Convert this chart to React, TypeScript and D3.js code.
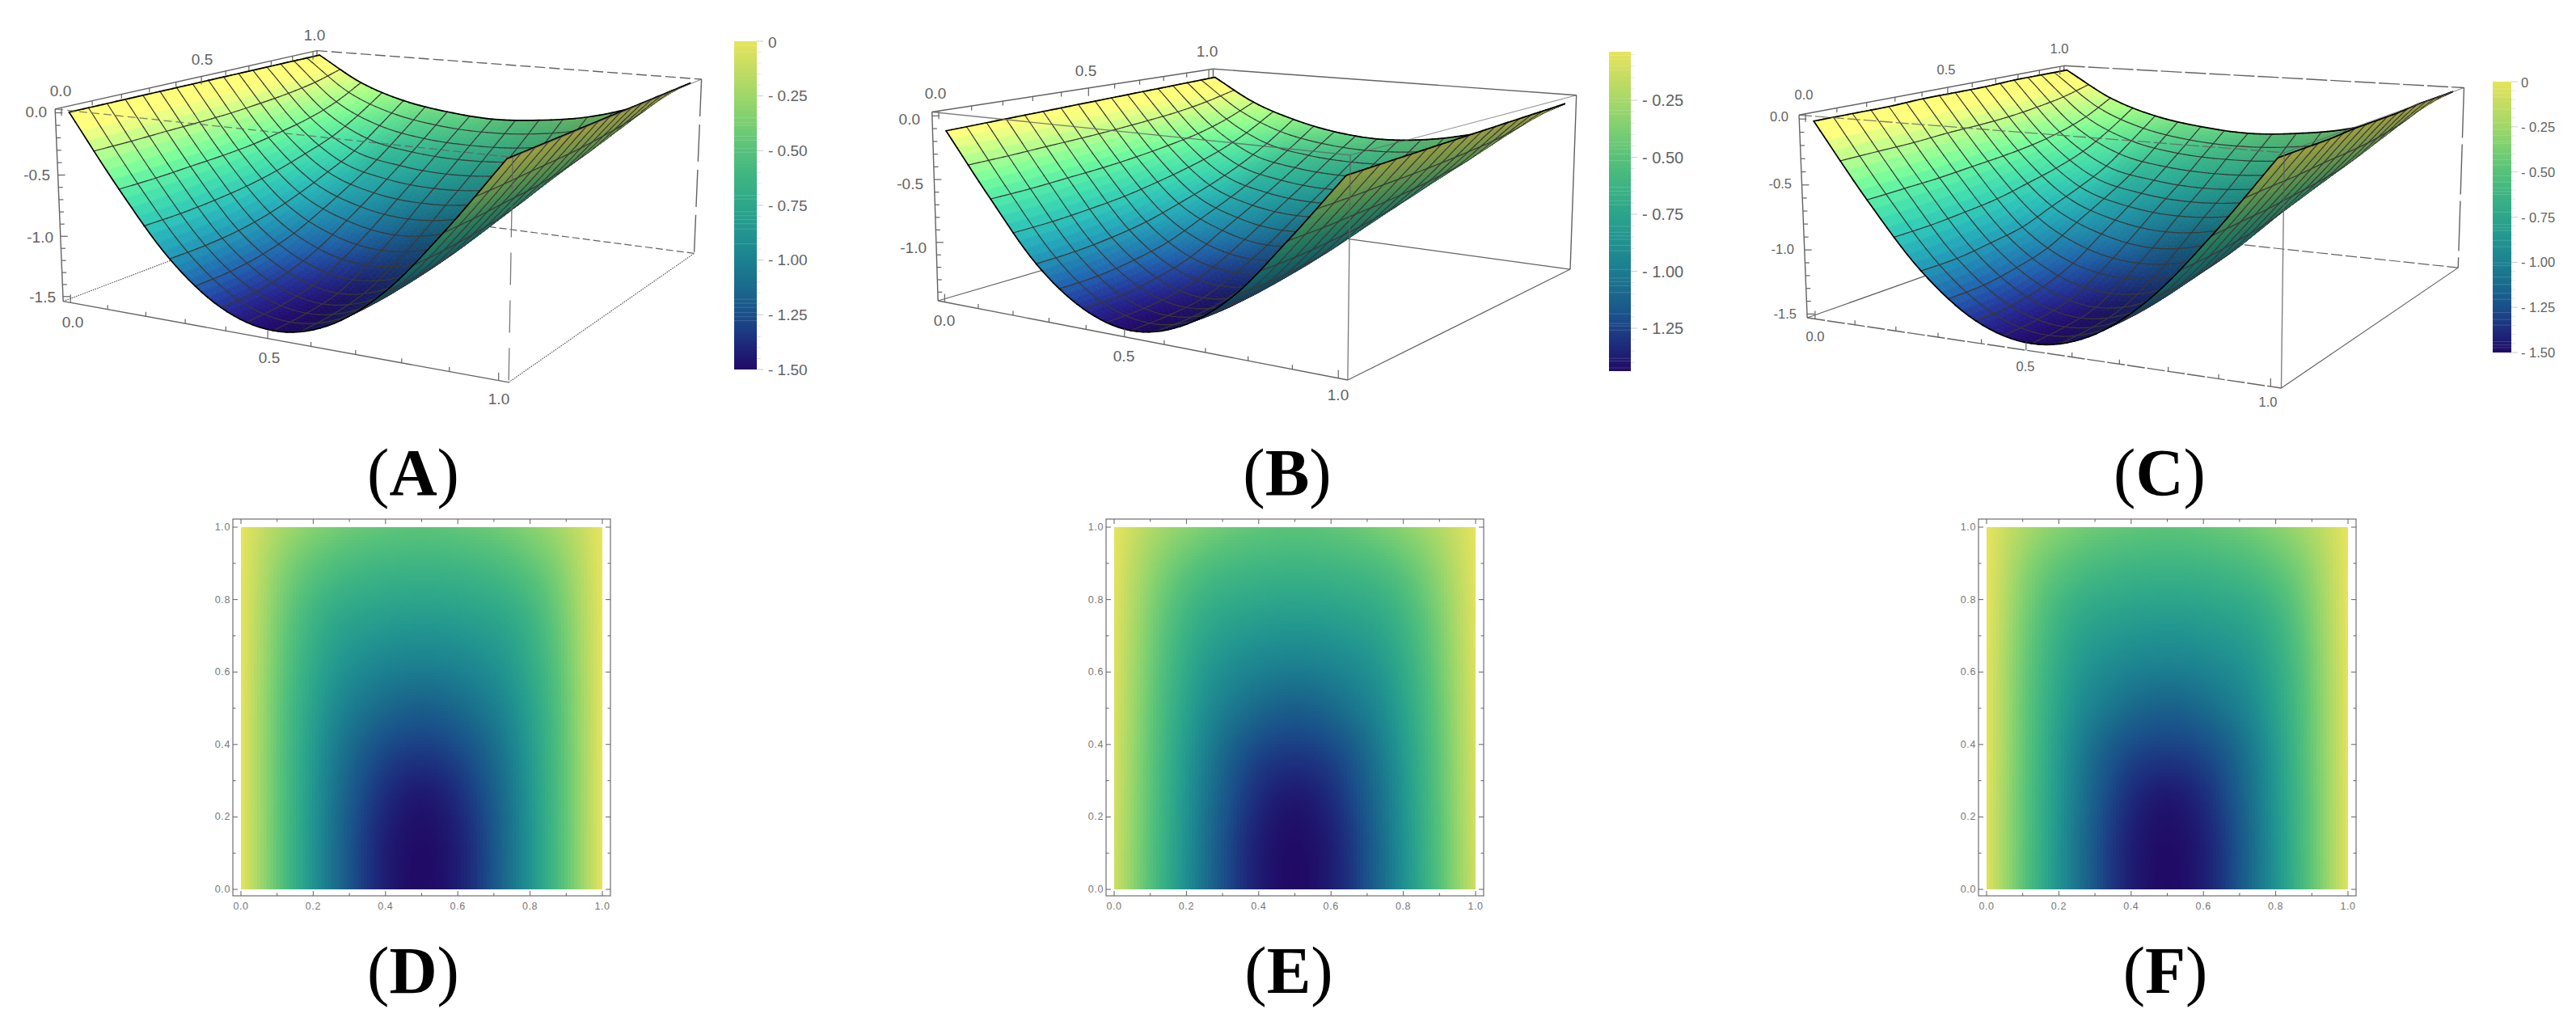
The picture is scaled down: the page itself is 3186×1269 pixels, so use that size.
import React, { useEffect, useRef } from "react";
import * as d3 from "d3";

// grid of the read-off surface values
const gridX = [0, 0.125, 0.25, 0.375, 0.5, 0.625, 0.75, 0.875, 1];
const gridY = [0, 0.125, 0.25, 0.375, 0.5, 0.625, 0.75, 0.875, 1];

const surfaceA = [
  [0, -0.57, -1.07, -1.39, -1.5, -1.39, -1.07, -0.57, 0],
  [0, -0.57, -1.07, -1.385, -1.49, -1.385, -1.07, -0.57, 0],
  [0, -0.56, -1.05, -1.34, -1.45, -1.34, -1.05, -0.56, 0],
  [0, -0.55, -1.0, -1.25, -1.33, -1.25, -1.0, -0.55, 0],
  [0, -0.53, -0.92, -1.11, -1.18, -1.11, -0.92, -0.53, 0],
  [0, -0.49, -0.82, -0.96, -1.0, -0.96, -0.82, -0.49, 0],
  [0, -0.44, -0.71, -0.8, -0.83, -0.8, -0.71, -0.44, 0],
  [0, -0.36, -0.55, -0.63, -0.65, -0.63, -0.55, -0.36, 0],
  [0, -0.24, -0.38, -0.45, -0.48, -0.45, -0.38, -0.24, 0],
];
const surfaceB = [
  [-0.12, -0.61, -1.06, -1.34, -1.44, -1.34, -1.06, -0.61, -0.12],
  [-0.11, -0.6, -1.05, -1.335, -1.43, -1.335, -1.05, -0.6, -0.11],
  [-0.1, -0.58, -1.02, -1.29, -1.39, -1.29, -1.02, -0.58, -0.1],
  [-0.09, -0.56, -0.97, -1.21, -1.28, -1.21, -0.97, -0.56, -0.09],
  [-0.08, -0.53, -0.89, -1.07, -1.14, -1.07, -0.89, -0.53, -0.08],
  [-0.07, -0.49, -0.8, -0.93, -0.97, -0.93, -0.8, -0.49, -0.07],
  [-0.06, -0.44, -0.69, -0.78, -0.81, -0.78, -0.69, -0.44, -0.06],
  [-0.05, -0.36, -0.55, -0.62, -0.64, -0.62, -0.55, -0.36, -0.05],
  [-0.04, -0.25, -0.38, -0.46, -0.49, -0.46, -0.38, -0.25, -0.04],
];
const surfaceC = [
  [-0.02, -0.58, -1.07, -1.39, -1.5, -1.39, -1.07, -0.58, -0.02],
  [-0.02, -0.57, -1.07, -1.385, -1.49, -1.385, -1.07, -0.57, -0.02],
  [-0.02, -0.56, -1.04, -1.34, -1.45, -1.34, -1.04, -0.56, -0.02],
  [-0.01, -0.54, -1.0, -1.25, -1.32, -1.25, -1.0, -0.54, -0.01],
  [-0.01, -0.52, -0.91, -1.1, -1.17, -1.1, -0.91, -0.52, -0.01],
  [-0.01, -0.49, -0.82, -0.95, -0.99, -0.95, -0.82, -0.49, -0.01],
  [0, -0.44, -0.71, -0.8, -0.83, -0.8, -0.71, -0.44, 0],
  [0, -0.36, -0.55, -0.63, -0.65, -0.63, -0.55, -0.36, 0],
  [0, -0.24, -0.38, -0.45, -0.48, -0.45, -0.38, -0.24, 0],
];

// colour ramp, top to bottom
const rampColors = ["#e6e45c", "#c4dc62", "#9fd76a", "#79ce72", "#56c17a", "#3eb483", "#2da68a",
  "#229590", "#1c8190", "#1a6a8c", "#1a4f8a", "#1d2c7c", "#200a66"];

const axisTicks = ["0.0", "0.5", "1.0"];
const heatTicks = ["0.0", "0.2", "0.4", "0.6", "0.8", "1.0"];
const zTickValues = [0, -0.5, -1.0, -1.5];
const barTicksA = [-0.25, -0.5, -0.75, -1.0, -1.25, -1.5];
const barTicksB = [-0.25, -0.5, -0.75, -1.0, -1.25];

// pale banding seen inside the colour bars, in bar units
const stripesA = [-0.02, -0.05, -0.35, -0.372, -0.384, -0.434, -0.452, -0.489, -0.507, -0.705, -0.721, -0.779, -0.797,
  -0.815, -0.834, -0.858, -0.926, -1.179, -1.197, -1.216, -1.24, -1.259, -1.277];
const stripesB = [-0.053, -0.07, -0.1, -0.118, -0.242, -0.257, -0.295, -0.31, -0.434, -0.448, -0.463, -0.486, -0.514,
  -0.632, -0.649, -0.665, -0.691, -0.708, -0.803, -0.829, -0.845, -0.86, -0.886, -0.91, -0.992, -1.03, -1.045, -1.063,
  -1.093, -1.187, -1.229, -1.24, -1.258, -1.382, -1.394, -1.424];
const stripesC = [-0.04, -0.063, -0.085, -0.152, -0.227, -0.264, -0.297, -0.331, -0.342, -0.399, -0.431, -0.461, -0.521,
  -0.555, -0.59, -0.608, -0.625, -0.722, -0.791, -0.809, -0.824, -0.879, -0.914, -1.003, -1.018, -1.082, -1.123, -1.172,
  -1.205, -1.279, -1.317, -1.348, -1.44, -1.458, -1.473];

type Pt = [number, number];
type Fit = [number, number, number, number, number];

interface Panel3D {
  name: string;
  table: number[][];
  zTop: number;
  zBot: number;
  domain: [number, number];
  fit: Fit[];
  font: number;
  bottomLabels: Pt[];
  topLabels: Pt[];
  zLabels: Pt[];
  zTicks: number[];
  styles: { backTop: string; rightV: string; topFront: string; botBack: string; botLeft: string; botRight: string; frontV: string; botFront: string };
  bar: { x0: number; x1: number; y0: number; y1: number; ticks: number[]; stripes: number[]; zero: boolean; zeroY: number; labelX: number; font: number };
  title: string;
  titleX: number;
}

const panelsTop: Panel3D[] = [
  {
    name: "A", table: surfaceA, zTop: 0.03, zBot: -1.54, domain: [-1.5, 0],
    fit: [
      [-0.02, -0.02, 0.03, 68, 135], [-0.02, 1.02, 0.03, 392, 63], [1.02, 1.02, 0.03, 867, 98], [1.02, -0.02, 0.03, 633, 195],
      [-0.02, -0.02, -1.54, 78, 373], [1.02, -0.02, -1.54, 630, 473], [1.02, 1.02, -1.54, 858, 313],
      [0, 0, 0, 86, 138], [0, 1, 0, 395, 68], [1, 1, 0, 855, 103], [1, 0, 0, 627, 196],
    ],
    font: 19,
    bottomLabels: [[90, 398], [333, 442], [617, 493]],
    topLabels: [[75, 112], [250, 73], [389, 43]],
    zLabels: [[58, 138], [62, 216], [66, 293], [69, 367]],
    zTicks: zTickValues,
    styles: { backTop: "13 5", rightV: "46 10", topFront: "10 5", botBack: "9 4", botLeft: "1.6 1.2", botRight: "1.6 1.2", frontV: "40 19", botFront: "" },
    bar: { x0: 908, x1: 936, y0: 51, y1: 457, ticks: barTicksA, stripes: stripesA, zero: true, zeroY: 51, labelX: 950, font: 19 },
    title: "A", titleX: 511,
  },
  {
    name: "B", table: surfaceB, zTop: 0.03, zBot: -1.47, domain: [-1.438, -0.037],
    fit: [
      [-0.02, -0.02, 0.03, 1152, 138], [-0.02, 1.02, 0.03, 1500, 85], [1.02, 1.02, 0.03, 1950, 117], [1.02, -0.02, 0.03, 1670, 192],
      [-0.02, -0.02, -1.47, 1160, 372], [1.02, -0.02, -1.47, 1667, 470], [1.02, 1.02, -1.47, 1942, 333],
      [0, 0, -0.12, 1171, 162], [0, 1, -0.04, 1503, 96], [1, 1, -0.04, 1935, 129], [1, 0, -0.12, 1665, 217],
    ],
    font: 19,
    bottomLabels: [[1168, 396], [1390, 440], [1655, 488]],
    topLabels: [[1157, 115], [1343, 87], [1493, 63]],
    zLabels: [[1138, 147], [1142, 227], [1146, 306]],
    zTicks: [0, -0.5, -1.0],
    styles: { backTop: "", rightV: "", topFront: "", botBack: "", botLeft: "", botRight: "", frontV: "", botFront: "" },
    bar: { x0: 1990, x1: 2017, y0: 64, y1: 459, ticks: barTicksB, stripes: stripesB, zero: false, zeroY: 53.5, labelX: 2031, font: 20 },
    title: "B", titleX: 1592,
  },
  {
    name: "C", table: surfaceC, zTop: 0.03, zBot: -1.53, domain: [-1.5, 0],
    fit: [
      [-0.02, -0.02, 0.03, 2224, 140], [-0.02, 1.02, 0.03, 2553, 80], [1.02, 1.02, 0.03, 3049, 107], [1.02, -0.02, 0.03, 2824, 187],
      [-0.02, -0.02, -1.53, 2235, 393], [1.02, -0.02, -1.53, 2822, 480], [1.02, 1.02, -1.53, 3040, 331],
      [0, 0, -0.02, 2244.5, 152], [0, 1, 0, 2556, 88], [1, 1, 0, 3032, 115], [1, 0, -0.02, 2818, 197],
    ],
    font: 16.5,
    bottomLabels: [[2245, 416], [2505, 453], [2805, 497]],
    topLabels: [[2231, 117], [2407, 86], [2547, 60]],
    zLabels: [[2212, 144], [2216, 227], [2219, 308], [2222, 388]],
    zTicks: zTickValues,
    styles: { backTop: "26 4", rightV: "62 8", topFront: "16 4", botBack: "14 4", botLeft: "", botRight: "", frontV: "", botFront: "22 3" },
    bar: { x0: 3083, x1: 3106, y0: 101, y1: 436, ticks: barTicksA, stripes: stripesC, zero: true, zeroY: 101, labelX: 3118, font: 16.5 },
    title: "C", titleX: 2671,
  },
];

const panelsBottom = [
  { title: "D", table: surfaceA, domain: [-1.5, 0] as [number, number], shift: 0, titleX: 511 },
  { title: "E", table: surfaceB, domain: [-1.438, -0.037] as [number, number], shift: 1080, titleX: 1594 },
  { title: "F", table: surfaceC, domain: [-1.5, 0] as [number, number], shift: 2159, titleX: 2678 },
];

const GRAY = "#626262";
const SANS = "'Liberation Sans', Arial, sans-serif";

// Catmull-Rom through the table, so the surface stays smooth between read-off points
function cubic(p0: number, p1: number, p2: number, p3: number, t: number) {
  return 0.5 * (2 * p1 + (p2 - p0) * t + (2 * p0 - 5 * p1 + 4 * p2 - p3) * t * t + (3 * p1 - p0 - 3 * p2 + p3) * t * t * t);
}
function pick(a: number[], i: number) {
  const n = a.length;
  if (i < 0) return 2 * a[0] - a[1];
  if (i >= n) return 2 * a[n - 1] - a[n - 2];
  return a[i];
}
function sample1(a: number[], u: number) {
  const n = a.length - 1;
  const i = Math.min(n - 1, Math.floor(u * n));
  return cubic(pick(a, i - 1), pick(a, i), pick(a, i + 1), pick(a, i + 2), u * n - i);
}
function sampler(table: number[][]) {
  const xs = d3.scaleLinear().domain(d3.extent(gridX) as [number, number]).range([0, 1]);
  const ys = d3.scaleLinear().domain(d3.extent(gridY) as [number, number]).range([0, 1]);
  return (x: number, y: number) => sample1(table.map((row) => sample1(row, xs(x))), ys(y));
}

// least squares camera from the box and surface corners
function fitCamera(points: Fit[]) {
  const n = 11;
  const A = d3.range(n).map(() => new Array(n + 1).fill(0));
  const add = (row: number[], rhs: number) => {
    for (let i = 0; i < n; i++) {
      for (let j = 0; j < n; j++) A[i][j] += row[i] * row[j];
      A[i][n] += row[i] * rhs;
    }
  };
  points.forEach(([X, Y, Z, u0, v0]) => {
    const u = u0 / 1000;
    const v = v0 / 1000;
    add([X, Y, Z, 1, 0, 0, 0, 0, -u * X, -u * Y, -u * Z], u);
    add([0, 0, 0, 0, X, Y, Z, 1, -v * X, -v * Y, -v * Z], v);
  });
  for (let c = 0; c < n; c++) {
    let best = c;
    for (let r = c + 1; r < n; r++) if (Math.abs(A[r][c]) > Math.abs(A[best][c])) best = r;
    [A[c], A[best]] = [A[best], A[c]];
    for (let r = 0; r < n; r++) {
      if (r === c) continue;
      const f = A[r][c] / A[c][c];
      for (let k = c; k <= n; k++) A[r][k] -= f * A[c][k];
    }
  }
  const p = A.map((row, i) => row[n] / row[i]);
  return (X: number, Y: number, Z: number) => {
    const w = p[8] * X + p[9] * Y + p[10] * Z + 1;
    return {
      x: (1000 * (p[0] * X + p[1] * Y + p[2] * Z + p[3])) / w,
      y: (1000 * (p[4] * X + p[5] * Y + p[6] * Z + p[7])) / w,
      w,
    };
  };
}

function colorScale(domain: [number, number]) {
  return d3.scaleLinear<string>()
    .domain(rampColors.map((_, i) => domain[1] + ((domain[0] - domain[1]) * i) / (rampColors.length - 1)))
    .range(rampColors)
    .interpolate(d3.interpolateRgb)
    .clamp(true);
}

type G = d3.Selection<SVGGElement, unknown, null, undefined>;

function seg(g: G, a: Pt, b: Pt, dashArr: string, width = 1.4, opacity = 1) {
  g.append("line")
    .attr("x1", a[0]).attr("y1", a[1]).attr("x2", b[0]).attr("y2", b[1])
    .attr("stroke", GRAY).attr("stroke-width", width).attr("opacity", opacity)
    .attr("stroke-dasharray", dashArr || null);
}

function drawPanel3D(root: G, pn: Panel3D) {
  const g = root.append("g").attr("class", "panel-" + pn.name);
  const cam = fitCamera(pn.fit);
  const at = sampler(pn.table);
  const color = colorScale(pn.domain);
  const pad = 0.02;
  const lo = -pad;
  const hi = 1 + pad;
  const corner = (x: number, y: number, z: number): Pt => {
    const c = cam(x, y, z);
    return [c.x, c.y];
  };
  const { zTop, zBot, styles } = pn;

  // hidden box edges, behind the surface
  const back = g.append("g");
  seg(back, corner(lo, hi, zTop), corner(hi, hi, zTop), styles.backTop);
  seg(back, corner(hi, hi, zTop), corner(hi, hi, zBot), styles.rightV);
  seg(back, corner(lo, hi, zTop), corner(lo, hi, zBot), "");
  seg(back, corner(hi, hi, zBot), corner(lo, hi, zBot), styles.botBack, 1.2);
  seg(back, corner(lo, lo, zBot), corner(lo, hi, zBot), styles.botLeft, 1.2);
  seg(back, corner(hi, lo, zBot), corner(hi, hi, zBot), styles.botRight, 1.2);

  // the surface: small quads and mesh pieces, painted far to near
  const N = 64;
  const step = 4;
  const u = d3.scaleLinear().domain([0, N]).range([0, 1]);
  const line = d3.line<{ x: number; y: number }>().x((d) => d.x).y((d) => d.y);
  const zAt = d3.range(N + 1).map((j) => d3.range(N + 1).map((i) => at(u(i), u(j))));
  const pts = zAt.map((row, j) => row.map((z, i) => cam(u(i), u(j), z)));

  const refA = cam(0, 0, 0), refB = cam(1, 0, 0), refC = cam(1, 1, 0), refD = cam(0, 1, 0);
  const area = (a: any, b: any, c: any, d: any) =>
    (a.x * b.y - b.x * a.y) + (b.x * c.y - c.x * b.y) + (c.x * d.y - d.x * c.y) + (d.x * a.y - a.x * d.y);
  const topSign = Math.sign(area(refA, refB, refC, refD));
  const dwCell = (Math.abs(refB.w - refA.w) + Math.abs(refD.w - refA.w)) / N;

  interface Item { w: number; d: string; fill: string; stroke: string; width: number; }
  const items: Item[] = [];
  const zScale = 0.4 / (zTop - zBot);

  for (let j = 0; j < N; j++) {
    for (let i = 0; i < N; i++) {
      const a = pts[j][i], b = pts[j][i + 1], c = pts[j + 1][i + 1], d = pts[j + 1][i];
      const zm = (zAt[j][i] + zAt[j][i + 1] + zAt[j + 1][i + 1] + zAt[j + 1][i]) / 4;
      const zx = (((zAt[j][i + 1] + zAt[j + 1][i + 1]) - (zAt[j][i] + zAt[j + 1][i])) / 2) * N * zScale;
      const zy = (((zAt[j + 1][i] + zAt[j + 1][i + 1]) - (zAt[j][i] + zAt[j][i + 1])) / 2) * N * zScale;
      const nx = -zx / Math.sqrt(zx * zx + zy * zy + 1);
      const top = Math.sign(area(a, b, c, d)) === topSign;
      const f = top ? 1 + 0.3 * Math.tanh(3 * nx) : 0.7;
      const base = d3.rgb(color(zm));
      const fill = d3.rgb(base.r * f, base.g * f, base.b * f).formatHex();
      items.push({
        w: (a.w + b.w + c.w + d.w) / 4,
        d: line([a, b, c, d])! + "Z",
        fill, stroke: fill, width: 0.8,
      });
    }
  }
  const meshPiece = (a: any, b: any, edge: boolean) => {
    items.push({
      w: (a.w + b.w) / 2 - dwCell * (edge ? 1.3 : 1),
      d: line([a, b])!,
      fill: "none",
      stroke: edge ? "#000" : "#3b3936",
      width: edge ? 1.7 : 1.2,
    });
  };
  for (let k = 0; k <= N; k += step) {
    const edge = k === 0 || k === N;
    for (let m = 0; m < N; m++) {
      meshPiece(pts[k][m], pts[k][m + 1], edge);
      meshPiece(pts[m][k], pts[m + 1][k], edge);
    }
  }
  items.sort((p, q) => q.w - p.w);
  g.append("g").selectAll("path").data(items).join("path")
    .attr("d", (d) => d.d)
    .attr("fill", (d) => d.fill)
    .attr("stroke", (d) => d.stroke)
    .attr("stroke-width", (d) => d.width)
    .attr("stroke-linecap", "round");

  // box edges in front of the surface, with the ticks
  const front = g.append("g");
  seg(front, corner(lo, lo, zTop), corner(hi, lo, zTop), styles.topFront, 1.3, 0.8);
  seg(front, corner(hi, hi, zTop), corner(hi, lo, zTop), "", 1.1, 0.7);
  seg(front, corner(hi, lo, zTop), corner(hi, lo, zBot), styles.frontV, 1.3, 0.85);
  seg(front, corner(lo, lo, zTop), corner(lo, hi, zTop), "");
  seg(front, corner(lo, lo, zTop), corner(lo, lo, zBot), "");
  seg(front, corner(lo, lo, zBot), corner(hi, lo, zBot), styles.botFront);

  d3.range(0, 11).forEach((k) => {
    const t = k / 10;
    const len = k % 5 === 0 ? 10 : 5.5;
    const p = corner(t, lo, zBot);
    seg(front, p, [p[0], p[1] - len], "", 1.2);
    const q = corner(lo, t, zTop);
    seg(front, q, [q[0], q[1] + len], "", 1.2);
  });
  d3.range(0, 16).forEach((k) => {
    const z = -k / 10;
    if (z < zBot) return;
    const p = corner(lo, lo, z);
    seg(front, p, [p[0] + (k % 5 === 0 ? 9 : 5.5), p[1]], "", 1.2);
  });

  const label = (txt: string, p: Pt, anchor: string) => {
    g.append("text").attr("x", p[0]).attr("y", p[1]).text(txt)
      .attr("font-family", SANS).attr("font-size", pn.font).attr("fill", GRAY)
      .attr("text-anchor", anchor).attr("dominant-baseline", "central");
  };
  axisTicks.forEach((t, i) => {
    label(t, pn.bottomLabels[i], "middle");
    label(t, pn.topLabels[i], "middle");
  });
  pn.zTicks.forEach((z, i) => label(d3.format(".1f")(z).replace("−", "-"), pn.zLabels[i], "end"));

  // colour bar
  const b = pn.bar;
  const barY = d3.scaleLinear().domain([pn.domain[1], pn.domain[0]]).range([b.y0, b.y1]);
  const barG = g.append("g");
  barG.append("g").selectAll("rect").data(d3.range(b.y0, b.y1, 2)).join("rect")
    .attr("x", b.x0).attr("width", b.x1 - b.x0).attr("y", (d) => d).attr("height", (d) => Math.min(2.5, b.y1 - d))
    .attr("fill", (d) => color(barY.invert(d + 1)));
  barG.append("g").selectAll("line").data(b.stripes).join("line")
    .attr("x1", b.x0).attr("x2", b.x1).attr("y1", (d) => barY(d)).attr("y2", (d) => barY(d))
    .attr("stroke", "#fff").attr("stroke-opacity", 0.16).attr("stroke-width", 1);
  d3.range(0, 31).forEach((k) => {
    const v = -k * 0.05;
    if (v > pn.domain[1] + 1e-6 || v < pn.domain[0] - 1e-6) return;
    const y = barY(v);
    const major = k % 5 === 0;
    barG.append("line").attr("x1", b.x1).attr("x2", b.x1 + (major ? 8 : 5)).attr("y1", y).attr("y2", y)
      .attr("stroke", major ? "#ccc" : "#e4e4e4").attr("stroke-width", 1);
  });
  const barLabel = (txt: string, y: number) => {
    barG.append("text").attr("x", b.labelX).attr("y", y).text(txt)
      .attr("font-family", SANS).attr("font-size", b.font).attr("fill", GRAY)
      .attr("dominant-baseline", "central");
  };
  if (b.zero) barLabel("0", b.zeroY + 1);
  b.ticks.forEach((v) => barLabel("- " + d3.format(".2f")(-v), barY(v)));

  title(root, pn.title, pn.titleX, 612);
}

function title(root: G, letter: string, x: number, y: number) {
  const t = root.append("text").attr("x", x).attr("y", y).attr("text-anchor", "middle")
    .attr("font-family", "'Liberation Serif', 'Times New Roman', serif").attr("font-size", 82).attr("fill", "#000");
  t.append("tspan").text("(");
  t.append("tspan").attr("font-weight", "bold").text(letter);
  t.append("tspan").text(")");
}

function drawHeat(root: G, pn: (typeof panelsBottom)[number]) {
  const g = root.append("g").attr("transform", `translate(${pn.shift},0)`);
  const x = d3.scaleLinear().domain([0, 1]).range([298, 745]);
  const y = d3.scaleLinear().domain([0, 1]).range([1100, 652]);
  const at = sampler(pn.table);
  const color = colorScale(pn.domain);
  const cell = 4;
  const cols = d3.range(x(0), x(1), cell);
  const rows = d3.range(y(1), y(0), cell);
  const cells = rows.flatMap((py) => cols.map((px) => ({ px, py })));
  g.append("g").attr("shape-rendering", "crispEdges").selectAll("rect").data(cells).join("rect")
    .attr("x", (d) => d.px).attr("y", (d) => d.py)
    .attr("width", (d) => Math.min(cell, x(1) - d.px)).attr("height", (d) => Math.min(cell, y(0) - d.py))
    .attr("fill", (d) => color(at(Math.min(1, x.invert(d.px + cell / 2)), Math.max(0, y.invert(d.py + cell / 2)))));

  const x0 = 288, x1 = 755, y0 = 642, y1 = 1108;
  g.append("rect").attr("x", x0).attr("y", y0).attr("width", x1 - x0).attr("height", y1 - y0)
    .attr("fill", "none").attr("stroke", GRAY).attr("stroke-width", 1.1);
  d3.range(0, 11).forEach((k) => {
    const t = k / 10;
    const len = k % 2 === 0 ? 6 : 3.5;
    const px = x(t);
    const py = y(t);
    const tick = (a: number, b: number, c: number, d: number) =>
      g.append("line").attr("x1", a).attr("y1", b).attr("x2", c).attr("y2", d)
        .attr("stroke", GRAY).attr("stroke-width", 1);
    tick(px, y1, px, y1 - len);
    tick(px, y0, px, y0 + len);
    tick(x0, py, x0 + len, py);
    tick(x1, py, x1 - len, py);
  });
  heatTicks.forEach((s) => {
    const v = +s;
    g.append("text").attr("x", x(v)).attr("y", 1121).text(s).attr("text-anchor", "middle")
      .attr("font-family", SANS).attr("font-size", 12.5).attr("letter-spacing", 0.6).attr("fill", "#777").attr("dominant-baseline", "central");
    g.append("text").attr("x", 285).attr("y", y(v)).text(s).attr("text-anchor", "end")
      .attr("font-family", SANS).attr("font-size", 12.5).attr("letter-spacing", 0.6).attr("fill", "#777").attr("dominant-baseline", "central");
  });
  title(root, pn.title, pn.titleX, 1228);
}

const App = () => {
  const ref = useRef<SVGSVGElement>(null);
  useEffect(() => {
    const svg = d3.select(ref.current!);
    svg.selectAll("*").remove();
    const root = svg.append("g") as unknown as G;
    panelsTop.forEach((p) => drawPanel3D(root, p));
    panelsBottom.forEach((p) => drawHeat(root, p));
  }, []);
  return (
    <svg ref={ref} width={3186} height={1269} viewBox="0 0 3186 1269"
      style={{ position: "absolute", left: 0, top: 0, background: "#fff", display: "block" }} />
  );
};

export default App;
